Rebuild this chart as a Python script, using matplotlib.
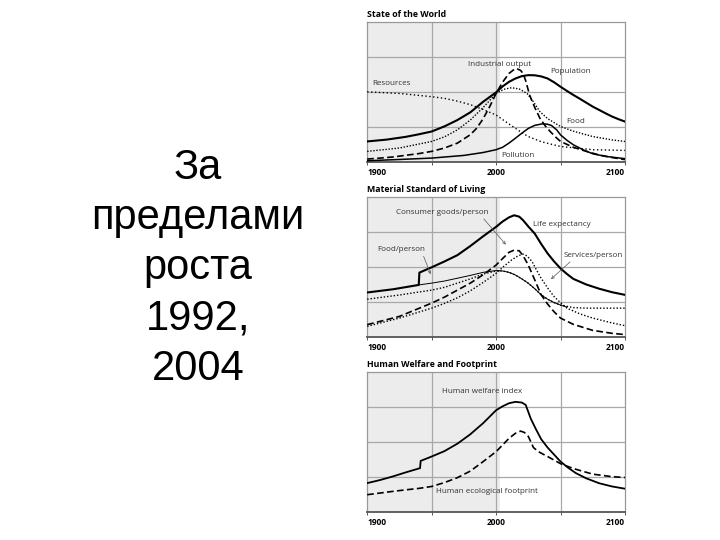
import numpy as np
import matplotlib.pyplot as plt

# --- State of the World ---
pop_years = [1900, 1915, 1930, 1940, 1950, 1960, 1970, 1980, 1990, 2000, 2005, 2010, 2015, 2020, 2025,
             2030, 2035, 2040, 2045, 2050, 2055, 2060, 2065, 2070, 2075, 2080, 2085, 2090, 2095, 2100]
pop_vals = [0.147, 0.160, 0.180, 0.198, 0.218, 0.255, 0.300, 0.355, 0.431, 0.498, 0.540, 0.573, 0.597, 0.614, 0.621,
            0.620, 0.612, 0.597, 0.570, 0.538, 0.508, 0.479, 0.452, 0.424, 0.396, 0.372, 0.348, 0.325, 0.306, 0.289]

ind_years = [1900, 1910, 1920, 1930, 1940, 1950, 1960, 1970, 1980, 1985, 1990, 1995, 2000, 2005, 2010, 2014,
             2016, 2019, 2021, 2023, 2026, 2030, 2034, 2038, 2042, 2046, 2050, 2060, 2070, 2080, 2090, 2100]
ind_vals = [0.021, 0.028, 0.036, 0.048, 0.060, 0.076, 0.100, 0.135, 0.195, 0.242, 0.310, 0.395, 0.490, 0.570, 0.633, 0.662,
            0.668, 0.655, 0.633, 0.580, 0.479, 0.390, 0.313, 0.260, 0.218, 0.180, 0.147, 0.105, 0.076, 0.050, 0.032, 0.017]

food_years = [1900, 1925, 1950, 1960, 1970, 1980, 1990, 2000, 2006, 2012, 2018, 2024, 2029, 2034, 2040,
              2050, 2060, 2075, 2090, 2100]
food_vals = [0.076, 0.100, 0.147, 0.180, 0.230, 0.300, 0.390, 0.490, 0.520, 0.531, 0.522, 0.490, 0.430, 0.360, 0.310,
             0.254, 0.220, 0.182, 0.158, 0.147]

res_years = [1900, 1925, 1950, 1960, 1970, 1980, 1990, 2000, 2010, 2020, 2025, 2035, 2050, 2075, 2100]
res_vals = [0.502, 0.490, 0.467, 0.455, 0.435, 0.410, 0.375, 0.336, 0.272, 0.210, 0.182, 0.145, 0.111, 0.088, 0.083]

pol_years = [1900, 1925, 1950, 1975, 1990, 2000, 2005, 2010, 2015, 2020, 2025, 2030, 2036, 2040, 2043,
             2047, 2050, 2055, 2060, 2068, 2075, 2085, 2100]
pol_vals = [0.009, 0.018, 0.028, 0.047, 0.068, 0.088, 0.105, 0.135, 0.170, 0.206, 0.240, 0.262, 0.273, 0.270, 0.261,
            0.230, 0.194, 0.155, 0.123, 0.085, 0.059, 0.040, 0.024]

# --- Material Standard of Living ---
le_years = [1900, 1920, 1940, 1940.5, 1950, 1960, 1970, 1980, 1990, 2000, 2005, 2010, 2014, 2018, 2021, 2025,
            2030, 2035, 2040, 2045, 2050, 2055, 2060, 2070, 2080, 2090, 2100]
le_vals = [0.318, 0.341, 0.372, 0.460, 0.498, 0.540, 0.585, 0.650, 0.720, 0.787, 0.825, 0.855, 0.870, 0.860, 0.834, 0.790,
           0.739, 0.665, 0.597, 0.540, 0.490, 0.450, 0.415, 0.375, 0.345, 0.320, 0.301]

fpp_years = [1940, 1950, 1960, 1970, 1980, 1990, 2000, 2005, 2010, 2015, 2020, 2025, 2030, 2035, 2040, 2045,
             2050, 2055]
fpp_vals = [0.372, 0.385, 0.400, 0.420, 0.440, 0.462, 0.475, 0.472, 0.462, 0.443, 0.415, 0.384, 0.345, 0.301, 0.270, 0.246,
            0.228, 0.213]

fpp2_years = [1900, 1925, 1950, 1960, 1970, 1980, 1990, 2000, 2005, 2010, 2015, 2020, 2025, 2030, 2035, 2040,
              2045, 2050, 2060, 2070, 2100]
fpp2_vals = [0.270, 0.300, 0.335, 0.355, 0.385, 0.415, 0.450, 0.472, 0.472, 0.462, 0.443, 0.415, 0.384, 0.345, 0.301, 0.270,
             0.246, 0.228, 0.210, 0.206, 0.206]

cg_years = [1900, 1925, 1950, 1960, 1970, 1980, 1990, 2000, 2005, 2010, 2014, 2018, 2021, 2025, 2030, 2035,
            2040, 2045, 2050, 2060, 2075, 2090, 2100]
cg_vals = [0.088, 0.147, 0.242, 0.285, 0.335, 0.385, 0.445, 0.514, 0.560, 0.605, 0.621, 0.616, 0.580, 0.514, 0.408, 0.301,
           0.235, 0.180, 0.135, 0.090, 0.047, 0.026, 0.017]

sv_years = [1900, 1925, 1950, 1960, 1970, 1980, 1990, 2000, 2006, 2012, 2017, 2021, 2024, 2028, 2031, 2035,
            2040, 2045, 2050, 2055, 2065, 2075, 2090, 2100]
sv_vals = [0.076, 0.135, 0.206, 0.240, 0.280, 0.330, 0.390, 0.455, 0.505, 0.550, 0.580, 0.592, 0.580, 0.538, 0.485, 0.419,
           0.350, 0.289, 0.245, 0.206, 0.165, 0.135, 0.100, 0.081]

# --- Human Welfare and Footprint ---
hw_years = [1900, 1910, 1920, 1930, 1941, 1941.5, 1950, 1960, 1970, 1980, 1990, 2000, 2005, 2010, 2015, 2020,
            2023, 2027, 2031, 2035, 2040, 2045, 2050, 2056, 2062, 2070, 2080, 2090, 2100]
hw_vals = [0.206, 0.228, 0.254, 0.283, 0.313, 0.365, 0.396, 0.435, 0.488, 0.555, 0.635, 0.727, 0.755, 0.777, 0.787, 0.782,
           0.765, 0.665, 0.590, 0.520, 0.460, 0.410, 0.360, 0.315, 0.277, 0.240, 0.205, 0.182, 0.166]

fp_years = [1900, 1910, 1920, 1930, 1940, 1950, 1960, 1970, 1980, 1990, 2000, 2005, 2010, 2015, 2019, 2022,
            2025, 2029, 2033, 2040, 2050, 2060, 2075, 2090, 2100]
fp_vals = [0.123, 0.135, 0.147, 0.158, 0.168, 0.182, 0.210, 0.245, 0.292, 0.360, 0.431, 0.478, 0.526, 0.562, 0.578, 0.568,
           0.540, 0.460, 0.430, 0.396, 0.345, 0.310, 0.270, 0.252, 0.246]

titles = ['State of the World', 'Material Standard of Living', 'Human Welfare and Footprint']

plt.rcParams['font.family'] = ['Open Sans', 'DejaVu Sans']

fig = plt.figure(figsize=(7.2, 5.4), dpi=100)

fig.text(0.275, 0.503, 'За\nпределами\nроста\n1992,\n2004', ha='center', va='center',
         fontsize=30, family='Liberation Sans', linespacing=1.33)

bottoms = [0.700, 0.376, 0.052]
axes = []
for b, t in zip(bottoms, titles):
    ax = fig.add_axes([0.510, b, 0.358, 0.259])
    ax.set_xlim(1900, 2100)
    ax.set_ylim(0, 1)
    ax.axvspan(1900, 2003, color='#ececec', zorder=0, lw=0)
    for x in [1950, 2000, 2050]:
        ax.axvline(x, color='#a8a8a8', lw=0.9, zorder=1)
    for y in [0.25, 0.5, 0.75]:
        ax.axhline(y, color='#a8a8a8', lw=0.9, zorder=1)
    for s in ax.spines.values():
        s.set_color('#999999')
        s.set_linewidth(0.9)
    ax.spines['bottom'].set_color('#555555')
    ax.spines['bottom'].set_linewidth(1.3)
    ax.set_yticks([])
    ax.set_xticks([1900, 1950, 2000, 2050, 2100])
    ax.set_xticklabels(['1900', '', '2000', '', '2100'], fontsize=6, fontweight='bold')
    labs = ax.get_xticklabels()
    labs[0].set_ha('left')
    labs[4].set_ha('right')
    ax.tick_params(axis='x', length=2.5, width=0.7, color='#555555', pad=2)
    ax.text(0, 1.025, t, transform=ax.transAxes, fontsize=6.3, fontweight='bold', va='bottom', ha='left')
    axes.append(ax)

lab = dict(fontsize=5.8, color='#333333', ha='center', va='center', zorder=5)

ax = axes[0]
ax.plot(pop_years, pop_vals, color='black', lw=1.5, zorder=3)
ax.plot(ind_years, ind_vals, color='black', lw=1.2, ls=(0, (4, 2)), zorder=3)
ax.plot(food_years, food_vals, color='black', lw=1.0, ls=(0, (1, 1.2)), zorder=3)
ax.plot(res_years, res_vals, color='black', lw=1.0, ls=(0, (1, 1.8)), zorder=3)
ax.plot(pol_years, pol_vals, color='black', lw=1.1, zorder=3)
ax.text(2003, 0.70, 'Industrial output', **lab)
ax.text(2058, 0.645, 'Population', **lab)
ax.text(1919, 0.56, 'Resources', **lab)
ax.text(2062, 0.29, 'Food', **lab)
ax.text(2017, 0.047, 'Pollution', **lab)

ax = axes[1]
ax.plot(le_years, le_vals, color='black', lw=1.5, zorder=3)
ax.plot(fpp_years, fpp_vals, color='black', lw=0.7, zorder=3)
ax.plot(fpp2_years, fpp2_vals, color='black', lw=1.0, ls=(0, (1, 1.4)), zorder=3)
ax.plot(cg_years, cg_vals, color='black', lw=1.2, ls=(0, (4, 2)), zorder=3)
ax.plot(sv_years, sv_vals, color='black', lw=1.0, ls=(0, (1, 1.4)), zorder=3)
ax.text(1958, 0.89, 'Consumer goods/person', **lab)
ax.text(2051, 0.806, 'Life expectancy', **lab)
ax.text(1926.5, 0.626, 'Food/person', **lab)
ax.text(2075.5, 0.585, 'Services/person', **lab)
arr = dict(arrowstyle='->', color='#555555', lw=0.5, mutation_scale=5)
ax.annotate('', xy=(2009, 0.645), xytext=(1989, 0.86), arrowprops=arr)
ax.annotate('', xy=(1950, 0.43), xytext=(1943, 0.595), arrowprops=arr)
ax.annotate('', xy=(2041, 0.40), xytext=(2059, 0.55), arrowprops=arr)

ax = axes[2]
ax.plot(hw_years, hw_vals, color='black', lw=1.3, zorder=3)
ax.plot(fp_years, fp_vals, color='black', lw=1.2, ls=(0, (4, 2)), zorder=3)
ax.text(1989, 0.863, 'Human welfare index', **lab)
ax.text(1993, 0.147, 'Human ecological footprint', **lab)

fig.savefig('out.png', dpi=100)
